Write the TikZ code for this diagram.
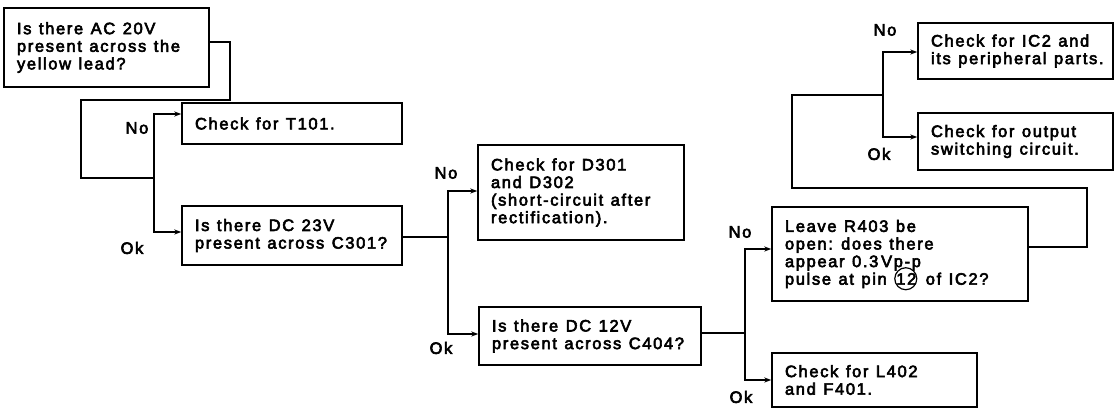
\documentclass[tikz,border=0pt]{standalone}
\usepackage{fontspec}
\usepackage{pict2e}
\usetikzlibrary{arrows.meta}
\newfontfamily\diafont[FakeBold=3.5,LetterSpace=10]{Liberation Sans}
\newcommand\setdiaspace{\spaceskip=7.5pt plus 1pt minus 1pt\relax}
\newcommand\circnum[1]{\mbox{\hspace{2pt}\sbox0{#1}\makebox[\wd0][c]{\raisebox{0.36em}{\unitlength=1pt\linethickness{1.2pt}\begin{picture}(0,0)\put(-0.5,0){\circle{22}}\end{picture}}}\kern-\wd0\usebox0\hspace{2pt}}}
\tikzset{
  txt/.style={font=\diafont\fontsize{16.5}{17.6}\selectfont},
  box/.style={txt, draw, line width=1.4pt, inner xsep=13pt, inner ysep=0pt, align=left, anchor=center, execute at begin node=\setdiaspace},
  conn/.style={line width=1.4pt},
  arr/.style={conn, -{Stealth[length=7pt,width=5pt]}},
  lbl/.style={txt, inner sep=0pt}
}
\begin{document}
\begin{tikzpicture}[x=1pt,y=-1pt]
\useasboundingbox (0,0) rectangle (1115,410);
% boxes
\node[box, minimum width=205pt, minimum height=79pt, text width=179pt] (A) at (106.5,47.5) {Is there AC 20V\\present across the\\yellow lead?};
\node[box, minimum width=220pt, minimum height=41pt, text width=194pt] (T101) at (292,123.5) {Check for T101.};
\node[box, minimum width=220pt, minimum height=59pt, text width=194pt] (B) at (292,235.5) {Is there DC 23V\\\mbox{present across C301?}};
\node[box, minimum width=206pt, minimum height=95pt, text width=180pt] (D301) at (581,192.5) {Check for D301\\and D302\\\mbox{(short-circuit after}\\rectification).};
\node[box, minimum width=222pt, minimum height=58pt, text width=196pt] (C404) at (590,336) {Is there DC 12V\\\mbox{present across C404?}};
\node[box, minimum width=256pt, minimum height=94pt, text width=230pt] (R403) at (900,254) {Leave R403 be\\open: does there\\appear 0.3\,Vp-p\\\mbox{pulse at pin \circnum{12} of IC2?}};
\node[box, minimum width=205pt, minimum height=54pt, text width=179pt] (L402) at (874.5,380) {Check for L402\\and F401.};
\node[box, minimum width=195pt, minimum height=56pt, text width=169pt] (IC2) at (1015.5,51) {Check for IC2 and\\\mbox{its peripheral parts.}};
\node[box, minimum width=195pt, minimum height=57pt, text width=169pt] (OSW) at (1015.5,141.5) {Check for output\\\mbox{switching circuit.}};
% bend points
\coordinate (a1) at (230,42);
\coordinate (a2) at (230,100);
\coordinate (a3) at (81,100);
\coordinate (j1) at (154,178);
\coordinate (t1) at (154,114);
\coordinate (b1) at (154,232);
\coordinate (j2) at (448,237);
\coordinate (d1) at (448,191);
\coordinate (c1) at (448,334);
\coordinate (j3) at (745,333);
\coordinate (r1) at (745,249);
\coordinate (l1) at (745,380);
\coordinate (r2) at (1087,247);
\coordinate (r3) at (1087,188);
\coordinate (r4) at (792,188);
\coordinate (r5) at (792,95);
\coordinate (j4) at (883,95);
\coordinate (i1) at (883,52);
\coordinate (o1) at (883,137);
% connectors
\draw[conn] (A.east |- a1) -- (a1) -- (a2) -- (a3) |- (j1);
\draw[arr] (j1) -- (t1) -- (T101.west |- t1);
\draw[arr] (j1) -- (b1) -- (B.west |- b1);
\draw[conn] (B.east |- j2) -- (j2);
\draw[arr] (j2) -- (d1) -- (D301.west |- d1);
\draw[arr] (j2) -- (c1) -- (C404.west |- c1);
\draw[conn] (C404.east |- j3) -- (j3);
\draw[arr] (j3) -- (r1) -- (R403.west |- r1);
\draw[arr] (j3) -- (l1) -- (L402.west |- l1);
\draw[conn] (R403.east |- r2) -- (r2) -- (r3) -- (r4) -- (r5) -- (j4);
\draw[arr] (j4) -- (i1) -- (IC2.west |- i1);
\draw[arr] (j4) -- (o1) -- (OSW.west |- o1);
% labels
\node[lbl] (no1) at (137,128) {No};
\node[lbl] (ok1) at (132,248) {Ok};
\node[lbl] (no2) at (446,173) {No};
\node[lbl] (ok2) at (441,348) {Ok};
\node[lbl] (no3) at (740,232) {No};
\node[lbl] (ok3) at (741,397) {Ok};
\node[lbl] (no4) at (885,30) {No};
\node[lbl] (ok4) at (879,154) {Ok};
\end{tikzpicture}
\end{document}
